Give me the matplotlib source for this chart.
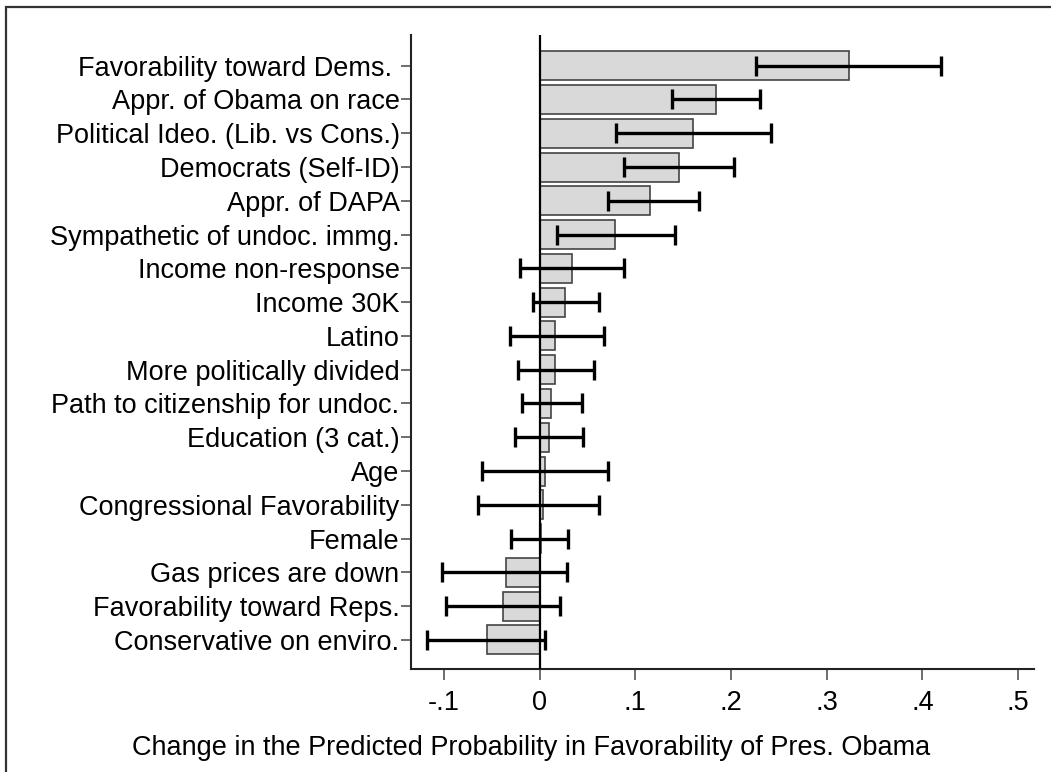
"""Bar chart of changes in predicted probability with confidence intervals"""

import matplotlib
matplotlib.use('Agg')
import matplotlib.pyplot as plt
from matplotlib.patches import Rectangle

# 变量名称（从上到下）
labels = [
    'Favorability toward Dems. ',
    'Appr. of Obama on race',
    'Political Ideo. (Lib. vs Cons.)',
    'Democrats (Self-ID)',
    'Appr. of DAPA',
    'Sympathetic of undoc. immg.',
    'Income non-response',
    'Income 30K',
    'Latino',
    'More politically divided',
    'Path to citizenship for undoc.',
    'Education (3 cat.)',
    'Age',
    'Congressional Favorability',
    'Female',
    'Gas prices are down',
    'Favorability toward Reps.',
    'Conservative on enviro.',
]

# 点估计
effect = [0.323, 0.184, 0.160, 0.146, 0.115, 0.079, 0.034, 0.026, 0.016, 0.016,
          0.012, 0.010, 0.006, 0.003, 0.0015, -0.035, -0.038, -0.055]
# 置信区间
ci_low = [0.226, 0.138, 0.080, 0.088, 0.071, 0.018, -0.021, -0.007, -0.031, -0.023,
          -0.018, -0.026, -0.060, -0.064, -0.030, -0.102, -0.098, -0.118]
ci_high = [0.419, 0.230, 0.242, 0.203, 0.166, 0.141, 0.088, 0.062, 0.067, 0.057,
           0.044, 0.045, 0.071, 0.062, 0.030, 0.029, 0.021, 0.006]

xticks = [-0.1, 0, 0.1, 0.2, 0.3, 0.4, 0.5]
xticklabels = ['-.1', '0', '.1', '.2', '.3', '.4', '.5']

plt.rcParams['font.family'] = ['Liberation Sans', 'DejaVu Sans']
FS = 19.5

fig = plt.figure(figsize=(10.51, 7.72), dpi=100)
ax = fig.add_axes([0.3908, 0.1330, 0.5930, 0.8217])

ypos = list(range(len(labels)))
err_lo = [e - lo for e, lo in zip(effect, ci_low)]
err_hi = [hi - e for e, hi in zip(effect, ci_high)]

ax.barh(ypos, effect, height=0.86, color='#d9d9d9', edgecolor='#444444',
        linewidth=1.2, zorder=2)
ax.errorbar(effect, ypos, xerr=[err_lo, err_hi], fmt='none', ecolor='black',
            elinewidth=2.4, capsize=7, capthick=2.4, zorder=3)
ax.axvline(0, color='black', linewidth=1.6, zorder=4)

ax.set_xlim(-0.1348, 0.5165)
ax.set_ylim(17.87, -0.91)
ax.set_yticks(ypos)
ax.set_yticklabels(labels, fontsize=FS)
ax.set_xticks(xticks)
ax.set_xticklabels(xticklabels, fontsize=FS)
ax.tick_params(axis='y', length=7, width=1.2, color='#555555', pad=1)
ax.tick_params(axis='x', length=8, width=1.2, color='#555555', pad=7)

# x轴标题以整张图居中
fig.text(531 / 1051, 1 - 748 / 772,
         'Change in the Predicted Probability in Favorability of Pres. Obama',
         fontsize=FS, ha='center', va='center')

for side in ['top', 'right']:
    ax.spines[side].set_visible(False)
for side in ['left', 'bottom']:
    ax.spines[side].set_linewidth(1.5)
    ax.spines[side].set_color('#222222')

# 外框
fig.patches.append(Rectangle((6 / 1051, -0.05), 1.1, 1 - 7 / 772 + 0.05,
                             transform=fig.transFigure, fill=False,
                             edgecolor='#333333', linewidth=1.6))

fig.savefig('out.png', dpi=100)
